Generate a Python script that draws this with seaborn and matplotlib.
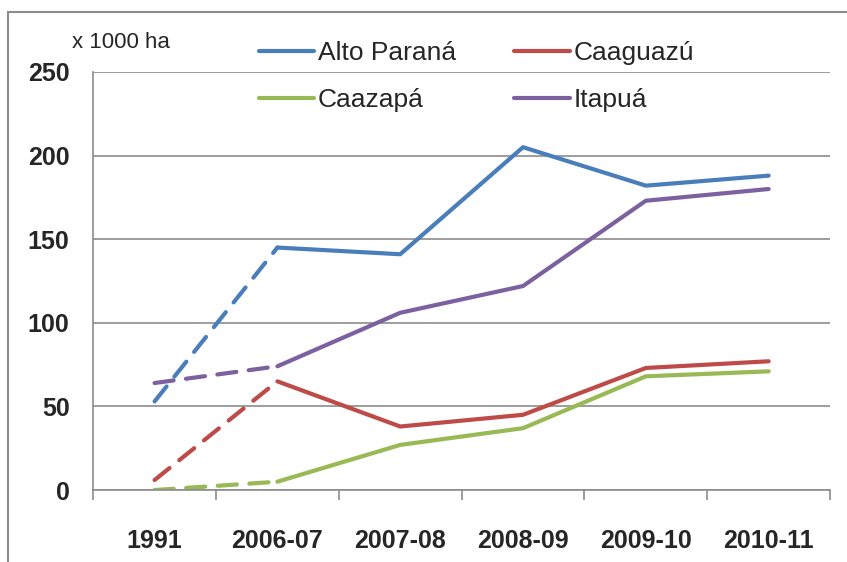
import matplotlib
matplotlib.use("Agg")
import matplotlib.pyplot as plt
from matplotlib.patches import Rectangle
import seaborn as sns
import numpy as np
import pandas as pd

# Area per department (x 1000 ha)
periods = ["1991", "2006-07", "2007-08", "2008-09", "2009-10", "2010-11"]
alto_parana = [53, 145, 141, 205, 182, 188]
caaguazu = [6, 65, 38, 45, 73, 77]
caazapa = [0, 5, 27, 37, 68, 71]
itapua = [64, 74, 106, 122, 173, 180]

series = {
    "Alto Paraná": (alto_parana, "#4A7EBB"),
    "Caaguazú": (caaguazu, "#BE4B48"),
    "Caazapá": (caazapa, "#98B954"),
    "Itapuá": (itapua, "#7D60A0"),
}

sns.set_theme(style="white")
plt.rcParams["font.family"] = ["Liberation Sans", "DejaVu Sans"]

fig = plt.figure(figsize=(8.47, 5.62), dpi=100)
ax = fig.add_axes([0.110, 0.128, 0.870, 0.744])

handles = {}
for name, (vals, color) in series.items():
    df = pd.DataFrame({"x": np.arange(len(periods)), "y": vals})
    # dashed link between 1991 and the first season
    sns.lineplot(data=df.iloc[:2], x="x", y="y", ax=ax, color=color,
                 linewidth=3.0, legend=False)
    ax.lines[-1].set_dashes((4.6, 3.0))
    ax.lines[-1].set_dash_capstyle("round")
    sns.lineplot(data=df.iloc[1:], x="x", y="y", ax=ax, color=color,
                 linewidth=3.0, legend=False)
    ax.lines[-1].set_solid_capstyle("round")
    handles[name] = ax.lines[-1]

ax.set_xlim(-0.5, len(periods) - 0.5)
ax.set_ylim(0, 250)
ax.set_yticks(np.arange(0, 251, 50))
ax.set_xticks(np.arange(len(periods)))
ax.set_xticklabels(periods)
ax.set_xticks(np.arange(len(periods) + 1) - 0.5, minor=True)
ax.set_xlabel("")
ax.set_ylabel("")

grid_c = "#8C8C8C"
ax.yaxis.grid(True, color=grid_c, linewidth=1.2)
ax.set_axisbelow(True)
for s in ["top", "right"]:
    ax.spines[s].set_visible(False)
for s in ["left", "bottom"]:
    ax.spines[s].set_color(grid_c)
    ax.spines[s].set_linewidth(1.2)

ax.tick_params(axis="y", which="major", direction="out", length=7, width=1.2,
               color=grid_c, pad=10, labelsize=18)
ax.tick_params(axis="x", which="major", length=0, pad=28, labelsize=18)
ax.tick_params(axis="x", which="minor", direction="out", length=7, width=1.2,
               color=grid_c, bottom=True)
for lab in ax.get_xticklabels() + ax.get_yticklabels():
    lab.set_fontweight("bold")

order = ["Alto Paraná", "Caazapá", "Caaguazú", "Itapuá"]
fig.legend([handles[n] for n in order], order, loc="upper left",
           bbox_to_anchor=(0.293, 0.945), ncol=2, frameon=False, fontsize=19,
           handlelength=2.1, handletextpad=0.15, columnspacing=2.2,
           labelspacing=0.85, borderaxespad=0)

fig.text(72 / 847, 1 - 42 / 562, "x 1000 ha", fontsize=16, va="center", ha="left")

# chart area border
fig.add_artist(Rectangle((8 / 847, -0.1), 1.2, 1 - 12 / 562 + 0.1,
                         transform=fig.transFigure, fill=False,
                         edgecolor="#8C8C8C", linewidth=1.5))

fig.savefig("out.png", dpi=100)
